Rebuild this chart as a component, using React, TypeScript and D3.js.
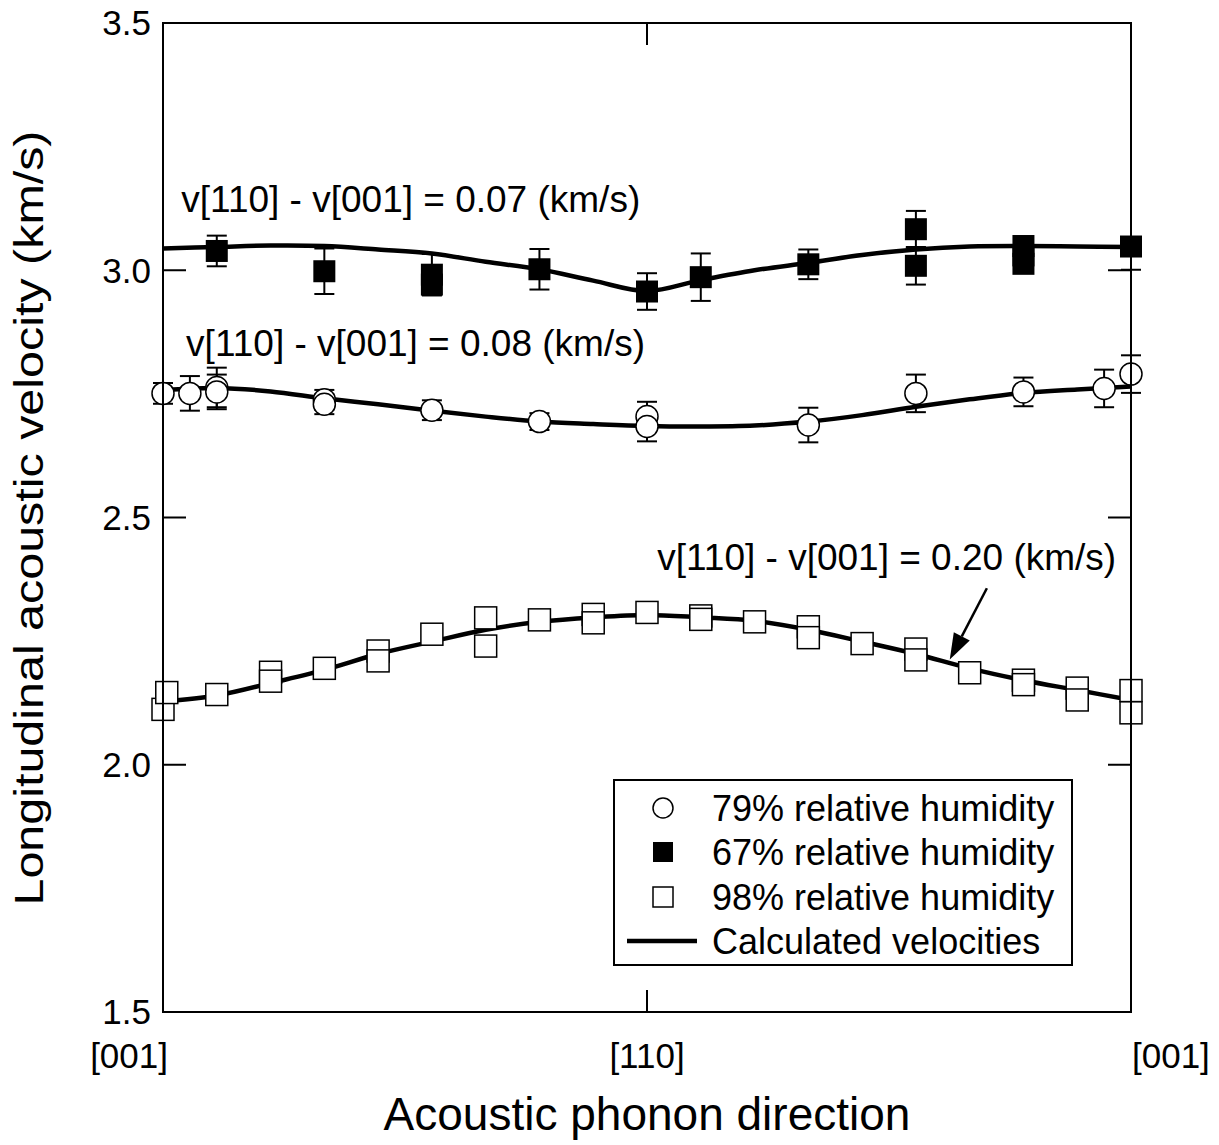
import React from "react";
import * as d3 from "d3";

// ---- data ----
const xTickValues = [0, 90, 180];
const xTickLabels = ["[001]", "[110]", "[001]"];
const yTickValues = [1.5, 2.0, 2.5, 3.0, 3.5];

// 67% relative humidity (filled squares)
const angles67 = [10, 30, 50, 50, 70, 90, 100, 120, 140, 140, 160, 160, 160, 180];
const values67 = [3.039, 2.998, 2.991, 2.971, 3.002, 2.957, 2.986, 3.012, 3.083, 3.009, 3.049, 3.030, 3.013, 3.048];
const errLo67 = [0.031, 0.046, 0.042, 0.02, 0.041, 0.037, 0.048, 0.03, 0.037, 0.038, 0.012, 0.012, 0.012, 0.047];
const errHi67 = [0.031, 0.046, 0.042, 0.02, 0.041, 0.037, 0.048, 0.03, 0.037, 0.038, 0.012, 0.012, 0.012, 0.0];

// 79% relative humidity (open circles)
const angles79 = [0, 5, 10, 10, 30, 30, 50, 70, 90, 90, 120, 140, 160, 175, 180];
const values79 = [2.751, 2.751, 2.763, 2.754, 2.738, 2.729, 2.717, 2.694, 2.704, 2.684, 2.687, 2.751, 2.754, 2.761, 2.790];
const err79 = [0.021, 0.035, 0.04, 0.035, 0.02, 0.02, 0.02, 0.017, 0.03, 0.03, 0.035, 0.038, 0.029, 0.038, 0.038];

// 98% relative humidity (open squares)
const angles98 = [0, 0.7, 10, 20, 20, 30, 40, 40, 50, 60, 60, 70, 80, 80, 90, 100, 100, 110, 120, 120, 130, 140, 140, 150, 160, 160, 170, 170, 180, 180];
const values98 = [2.112, 2.146, 2.142, 2.187, 2.169, 2.195, 2.230, 2.210, 2.264, 2.297, 2.240, 2.293, 2.304, 2.287, 2.308, 2.301, 2.294, 2.289, 2.279, 2.257, 2.245, 2.234, 2.212, 2.186, 2.171, 2.162, 2.155, 2.131, 2.150, 2.105];

// calculated velocity curves, every 10 degrees
const curveAngles = [0, 10, 20, 30, 40, 50, 60, 70, 80, 90, 100, 110, 120, 130, 140, 150, 160, 170, 180];
const curve67 = [3.044, 3.047, 3.050, 3.049, 3.042, 3.034, 3.017, 3.002, 2.979, 2.958, 2.980, 3.000, 3.015, 3.031, 3.042, 3.048, 3.049, 3.048, 3.047];
const curve79 = [2.758, 2.762, 2.755, 2.741, 2.729, 2.716, 2.704, 2.694, 2.689, 2.685, 2.684, 2.686, 2.694, 2.707, 2.724, 2.739, 2.752, 2.759, 2.765];
const curve98 = [2.128, 2.140, 2.165, 2.192, 2.224, 2.249, 2.273, 2.289, 2.298, 2.303, 2.298, 2.291, 2.273, 2.249, 2.224, 2.195, 2.171, 2.151, 2.131];

const legendLabels = ["79% relative humidity", "67% relative humidity", "98% relative humidity", "Calculated velocities"];
const annotationTexts = ["v[110] - v[001] = 0.07 (km/s)", "v[110] - v[001] = 0.08 (km/s)", "v[110] - v[001] = 0.20 (km/s)"];

// ---- layout ----
const W = 1219;
const H = 1145;
const L = 163, R = 1131, T = 23, B = 1012;
const FONT = "'Liberation Sans', Arial, Helvetica, sans-serif";

export default function App() {
  const x = d3.scaleLinear().domain([0, 180]).range([L, R]);
  const y = d3.scaleLinear().domain([1.5, 3.5]).range([B, T]);

  const line = d3
    .line<number>()
    .x((_, i) => x(curveAngles[i]))
    .y((d) => y(d))
    .curve(d3.curveCatmullRom.alpha(0.5));

  const ms = 22; // marker size
  const cap = 10;

  const errorBars = (angles: number[], vals: number[], lo: number[], hi: number[], key: string) =>
    angles.map((a, i) => {
      const cx = x(a);
      const y0 = y(vals[i] - lo[i]);
      const y1 = y(vals[i] + hi[i]);
      return (
        <g key={key + i} stroke="#000" strokeWidth={2}>
          <line x1={cx} x2={cx} y1={y0} y2={y1} />
          {lo[i] > 0 && <line x1={cx - cap} x2={cx + cap} y1={y0} y2={y0} />}
          {hi[i] > 0 && <line x1={cx - cap} x2={cx + cap} y1={y1} y2={y1} />}
        </g>
      );
    });

  // arrow
  const ax0 = x(153.2), ay0 = y(2.357);
  const ax1 = x(146.3), ay1 = y(2.213);
  const ang = Math.atan2(ay1 - ay0, ax1 - ax0);
  const headLen = 26, headW = 9;
  const bx = ax1 - headLen * Math.cos(ang), by = ay1 - headLen * Math.sin(ang);
  const px = -Math.sin(ang) * headW, py = Math.cos(ang) * headW;

  const legX = 614, legY = 780, legW = 458, legH = 185;
  const rowY = [808, 852, 897, 941];
  const symX = 663;

  return (
    <svg
      width={W}
      height={H}
      style={{ position: "absolute", left: 0, top: 0, background: "#fff" }}
      fontFamily={FONT}
    >
      <rect x={0} y={0} width={W} height={H} fill="#fff" />

      {/* curves */}
      <g fill="none" stroke="#000" strokeWidth={4.5}>
        <path d={line(curve67) || ""} />
        <path d={line(curve79) || ""} />
        <path d={line(curve98) || ""} />
      </g>

      {/* error bars */}
      {errorBars(angles67, values67, errLo67, errHi67, "e67")}
      {errorBars(angles79, values79, err79, err79, "e79")}

      {/* markers */}
      {angles98.map((a, i) => (
        <rect
          key={"s98" + i}
          x={x(a) - ms / 2}
          y={y(values98[i]) - ms / 2}
          width={ms}
          height={ms}
          fill="#fff"
          stroke="#000"
          strokeWidth={1.5}
        />
      ))}
      {angles79.map((a, i) => (
        <circle key={"c79" + i} cx={x(a)} cy={y(values79[i])} r={11} fill="#fff" stroke="#000" strokeWidth={1.5} />
      ))}
      {angles67.map((a, i) => (
        <rect key={"s67" + i} x={x(a) - ms / 2} y={y(values67[i]) - ms / 2} width={ms} height={ms} fill="#000" />
      ))}

      {/* frame */}
      <rect x={L} y={T} width={R - L} height={B - T} fill="none" stroke="#000" strokeWidth={2} />

      {/* y ticks */}
      {yTickValues.map((v) => (
        <g key={"yt" + v}>
          {v > 1.5 && v < 3.5 && (
            <>
              <line x1={L} x2={L + 23} y1={y(v)} y2={y(v)} stroke="#000" strokeWidth={2} />
              <line x1={R - 23} x2={R} y1={y(v)} y2={y(v)} stroke="#000" strokeWidth={2} />
            </>
          )}
          <text x={L - 12} y={y(v)} dy="0.35em" textAnchor="end" fontSize={35}>
            {v.toFixed(1)}
          </text>
        </g>
      ))}

      {/* x ticks */}
      {xTickValues.map((v, i) => (
        <g key={"xt" + i}>
          {i === 1 && (
            <>
              <line x1={x(v)} x2={x(v)} y1={T} y2={T + 22} stroke="#000" strokeWidth={2} />
              <line x1={x(v)} x2={x(v)} y1={B} y2={B - 22} stroke="#000" strokeWidth={2} />
            </>
          )}
          <text
            x={i === 0 ? x(v) + 5 : i === 2 ? x(v) + 1 : x(v)}
            y={1068}
            textAnchor={i === 0 ? "end" : i === 2 ? "start" : "middle"}
            fontSize={35}
          >
            {xTickLabels[i]}
          </text>
        </g>
      ))}

      {/* axis titles */}
      <text x={(L + R) / 2} y={1130} textAnchor="middle" fontSize={46}>
        Acoustic phonon direction
      </text>
      <text
        transform={`translate(43, 518) rotate(-90)`}
        textAnchor="middle"
        fontSize={40}
        textLength={775}
        lengthAdjust="spacingAndGlyphs"
      >
        Longitudinal acoustic velocity (km/s)
      </text>

      {/* annotations */}
      <text x={x(3.4)} y={y(3.118)} fontSize={37}>
        {annotationTexts[0]}
      </text>
      <text x={x(4.3)} y={y(2.826)} fontSize={37}>
        {annotationTexts[1]}
      </text>
      <text x={x(91.9)} y={y(2.394)} fontSize={37}>
        {annotationTexts[2]}
      </text>

      {/* arrow */}
      <line x1={ax0} y1={ay0} x2={bx} y2={by} stroke="#000" strokeWidth={2.5} />
      <polygon points={`${ax1},${ay1} ${bx + px},${by + py} ${bx - px},${by - py}`} fill="#000" />

      {/* legend */}
      <rect x={legX} y={legY} width={legW} height={legH} fill="#fff" stroke="#000" strokeWidth={2} />
      <circle cx={symX} cy={rowY[0]} r={10} fill="#fff" stroke="#000" strokeWidth={1.5} />
      <rect x={symX - 10} y={rowY[1] - 10} width={20} height={20} fill="#000" />
      <rect x={symX - 10} y={rowY[2] - 10} width={20} height={20} fill="#fff" stroke="#000" strokeWidth={1.5} />
      <line x1={627} x2={697} y1={rowY[3]} y2={rowY[3]} stroke="#000" strokeWidth={4.5} />
      {legendLabels.map((t, i) => (
        <text key={"lg" + i} x={712} y={rowY[i]} dy="0.36em" fontSize={36}>
          {t}
        </text>
      ))}
    </svg>
  );
}
